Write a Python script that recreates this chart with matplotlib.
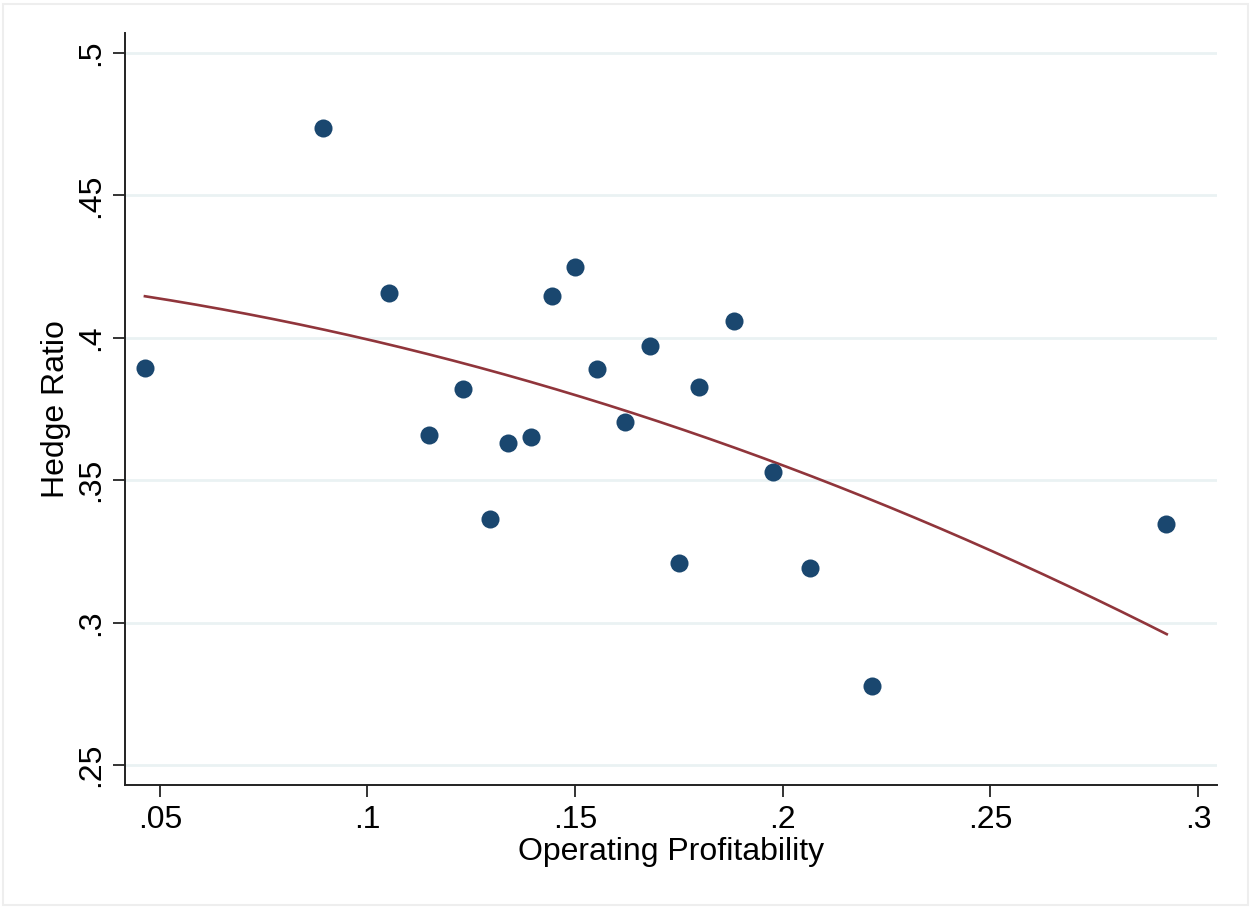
import numpy as np
import matplotlib
matplotlib.use("Agg")
import matplotlib.pyplot as plt

# Data
op_profit = [0.0464, 0.0893, 0.1051, 0.1149, 0.1231, 0.1294, 0.1338, 0.1394,
             0.1445, 0.1500, 0.1553, 0.1620, 0.1680, 0.1750, 0.1798, 0.1882,
             0.1976, 0.2066, 0.2215, 0.2923]
hedge_ratio = [0.3895, 0.4738, 0.4158, 0.3660, 0.3821, 0.3363, 0.3630, 0.3650,
               0.4147, 0.4249, 0.3890, 0.3705, 0.3972, 0.3209, 0.3828, 0.4060,
               0.3528, 0.3193, 0.2779, 0.3346]
# quadratic fit line
fit_x = [0.0464, 0.0789, 0.1078, 0.1150, 0.1439, 0.1752, 0.1801, 0.2114,
         0.2403, 0.2475, 0.2925]
fit_y = [0.4139, 0.4075, 0.3964, 0.3937, 0.3829, 0.3680, 0.3654, 0.3488,
         0.3317, 0.3270, 0.2960]
x_ticks = [0.05, 0.10, 0.15, 0.20, 0.25, 0.30]
x_tick_labels = [".05", ".1", ".15", ".2", ".25", ".3"]
y_ticks = [0.25, 0.30, 0.35, 0.40, 0.45, 0.50]
y_tick_labels = [".25", ".3", ".35", ".4", ".45", ".5"]

plt.rcParams['font.family'] = ['Liberation Sans', 'DejaVu Sans']

fig = plt.figure(figsize=(12.5, 9.07), dpi=100)
ax = fig.add_axes([0.1, 0.1345, 0.8736, 0.8291])

# smooth quadratic through the sampled fit-line points
coef = np.polyfit(fit_x, fit_y, 2)
xf = np.linspace(min(fit_x), max(fit_x), 200)
yf = np.polyval(coef, xf)

for yt in y_ticks:
    ax.axhline(yt, color='#eaf2f3', lw=2.0, zorder=0)

ax.plot(op_profit, hedge_ratio, 'o', color='#1a476f', markersize=13,
        markeredgewidth=0, zorder=3)
ax.plot(xf, yf, '-', color='#90353b', lw=1.9, zorder=2)

ax.set_xlim(0.0416, 0.3046)
ax.set_ylim(0.243, 0.507)
ax.set_xticks(x_ticks)
ax.set_xticklabels(x_tick_labels)
ax.set_yticks(y_ticks)
ax.set_yticklabels(y_tick_labels, rotation=90, va='center')

for s in ['top', 'right']:
    ax.spines[s].set_visible(False)
for s in ['left', 'bottom']:
    ax.spines[s].set_linewidth(1.4)
    ax.spines[s].set_color('#222222')

ax.tick_params(axis='both', length=8.5, width=1.4, color='#333333', labelsize=23, pad=6)
ax.tick_params(axis='y', pad=5)
ax.set_xlabel("Operating Profitability", fontsize=23, labelpad=1)
ax.set_ylabel("Hedge Ratio", fontsize=23, labelpad=4)

# faint outer frame
fig.patches.append(plt.Rectangle((0.002, 0.002), 0.996, 0.994, transform=fig.transFigure,
                                 fill=False, edgecolor='#eeeeee', lw=1.5))

fig.savefig("out.png", dpi=100)
